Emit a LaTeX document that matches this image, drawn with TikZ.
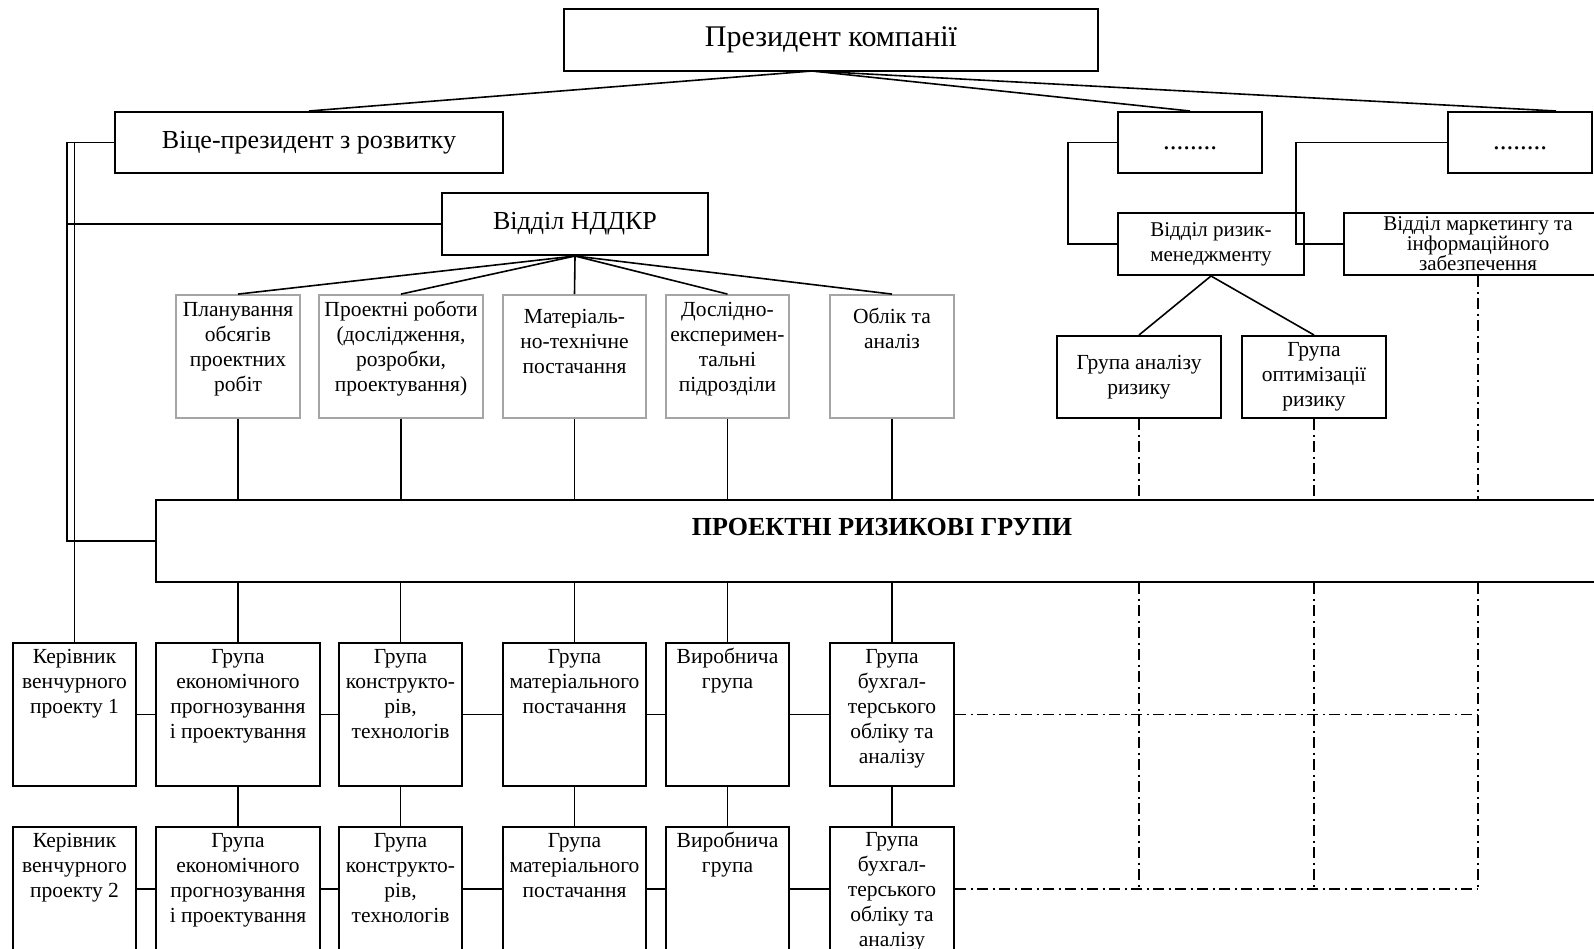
\documentclass[tikz,border=0pt]{standalone}
\usepackage{fontspec}
\setmainfont{Liberation Serif}
\usetikzlibrary{calc}
\definecolor{gline}{RGB}{165,165,165}
\newcommand\tb[4]{\parbox[c][#2pt][t]{#1pt}{\centering\vspace*{#3pt}\strut #4\par}}
\begin{document}
\begin{tikzpicture}[x=1pt,y=-1pt,
  bx/.style={draw, line width=2pt, inner sep=0pt},
  gbx/.style={draw=gline, line width=1.8pt, inner sep=0pt},
  sm/.style={font=\fontsize{21.5}{25}\selectfont},
  ln/.style={line width=1.6pt},
  dd/.style={line width=1.8pt, dash pattern=on 11pt off 4.5pt on 2pt off 4.5pt}]
\useasboundingbox (0,0) rectangle (1594,948);
\clip (0,0) rectangle (1594,948);
% top level
\node[bx, minimum width=534pt, minimum height=62pt, font=\fontsize{30}{36}\selectfont] (pres) at (831,40) {Президент компанії};
\node[bx, minimum width=388pt, minimum height=61pt, font=\fontsize{26}{30}\selectfont] (vp) at (309,142.5) {Віце-президент з розвитку};
\node[bx, minimum width=144pt, minimum height=61pt, text height=14pt, text depth=0pt, font=\fontsize{27}{30}\selectfont] (d1) at (1190,142.5) {........};
\node[bx, minimum width=144pt, minimum height=61pt, text height=14pt, text depth=0pt, font=\fontsize{27}{30}\selectfont] (d2) at (1520,142.5) {........};
\node[bx, minimum width=266pt, minimum height=62pt, font=\fontsize{26}{30}\selectfont] (nd) at (575,224) {Відділ НДДКР};
\coordinate (pc) at (812,71);
\draw[ln] (pc) -- (vp.north);
\draw[ln] (pc) -- (d1.north);
\draw[ln] (pc) -- ($(d2.north)+(36,0)$);
% right departments
\node[bx, align=center, minimum width=186pt, minimum height=62pt, font=\fontsize{21}{25}\selectfont] (rm) at (1211,244) {Відділ ризик-\\менеджменту};
\node[bx, align=center, minimum width=268pt, minimum height=62pt, font=\fontsize{21}{19.5}\selectfont] (mk) at (1478,244) {Відділ маркетингу та\\інформаційного\\забезпечення};
\node[bx, sm, align=center, minimum width=164pt, minimum height=82pt] (ga) at (1139,377) {Група аналізу\\ризику};
\node[bx, sm, align=center, minimum width=144pt, minimum height=82pt] (go) at (1314,377) {Група\\оптимізації\\ризику};
\draw[ln] (d1.west) -- ++(-49,0) |- (rm.west);
\draw[ln] (d2.west) -- ++(-151,0) |- (mk.west);
\draw[ln] (rm.south) -- (ga.north);
\draw[ln] (rm.south) -- (go.north);
% R&D sections
\node[gbx, sm] (p1) at (238,356.5) {\tb{124}{123}{3.5}{Планування\\обсягів\\проектних\\робіт}};
\node[gbx, sm] (p2) at (401,356.5) {\tb{164}{123}{3.5}{Проектні роботи\\(дослідження,\\розробки,\\проектування)}};
\node[gbx, sm] (p3) at (574.5,356.5) {\tb{143}{123}{10.5}{Матеріаль-\\но-технічне\\постачання}};
\node[gbx, sm] (p4) at (727.5,356.5) {\tb{123}{123}{4}{Дослідно-\\експеримен-\\тальні\\підрозділи}};
\node[gbx, sm] (p5) at (892,356.5) {\tb{124}{123}{10.5}{Облік та\\аналіз}};
\foreach \p in {p1,p2,p3,p4,p5} \draw[ln] (nd.south) -- (\p.north);
% project risk groups
\node[bx, minimum width=1452pt, minimum height=82pt, text height=18pt, text depth=29pt, font=\bfseries\fontsize{26}{30}\selectfont] (prg) at (882,541) {ПРОЕКТНІ РИЗИКОВІ ГРУПИ};
% row 1
\node[bx, sm] (k1) at (74.5,714.5) {\tb{123}{143}{2.5}{Керівник\\венчурного\\проекту 1}};
\node[bx, sm] (e1) at (238,714.5) {\tb{164}{143}{2.5}{Група\\економічного\\прогнозування\\і проектування}};
\node[bx, sm] (c1) at (400.5,714.5) {\tb{123}{143}{2.5}{Група\\конструкто-\\рів,\\технологів}};
\node[bx, sm] (m1) at (574.5,714.5) {\tb{143}{143}{2.5}{Група\\матеріального\\постачання}};
\node[bx, sm] (v1) at (727.5,714.5) {\tb{123}{143}{2.5}{Виробнича\\група}};
\node[bx, sm] (b1) at (892,714.5) {\tb{124}{143}{2.5}{Група\\бухгал-\\терського\\обліку та\\аналізу}};
% row 2
\node[bx, sm] (k2) at (74.5,889) {\tb{123}{124}{2.5}{Керівник\\венчурного\\проекту 2}};
\node[bx, sm] (e2) at (238,889) {\tb{164}{124}{2.5}{Група\\економічного\\прогнозування\\і проектування}};
\node[bx, sm] (c2) at (400.5,889) {\tb{123}{124}{2.5}{Група\\конструкто-\\рів,\\технологів}};
\node[bx, sm] (m2) at (574.5,889) {\tb{143}{124}{2.5}{Група\\матеріального\\постачання}};
\node[bx, sm] (v2) at (727.5,889) {\tb{123}{124}{2.5}{Виробнича\\група}};
\node[bx, sm] (b2) at (892,889) {\tb{124}{124}{1.5}{Група\\бухгал-\\терського\\обліку та\\аналізу}};
% vice-president links
\coordinate (bus) at (67,142.5);
\draw[ln] (vp.west) -| (k1.north);
\draw[ln] (vp.west) -- (bus) |- (prg.west);
\draw[ln] (nd.west) -- (bus |- nd.west);
% vertical links
\foreach \p/\a/\b in {p1/e1/e2,p2/c1/c2,p3/m1/m2,p4/v1/v2,p5/b1/b2}{
  \draw[ln] (\p.south) -- (\p.south |- prg.north);
  \draw[ln] (prg.south -| \a.north) -- (\a.north);
  \draw[ln] (\a.south) -- (\b.north);
}
% horizontal links
\draw[ln] (k1.east) -- (e1.west);
\draw[ln] (e1.east) -- (c1.west);
\draw[ln] (c1.east) -- (m1.west);
\draw[ln] (m1.east) -- (v1.west);
\draw[ln] (v1.east) -- (b1.west);
\draw[ln] (k2.east) -- (e2.west);
\draw[ln] (e2.east) -- (c2.west);
\draw[ln] (c2.east) -- (m2.west);
\draw[ln] (m2.east) -- (v2.west);
\draw[ln] (v2.east) -- (b2.west);
% dash-dot links
\foreach \n in {ga,go,mk}{
  \draw[dd] (\n.south) -- (\n.south |- prg.north);
  \draw[dd] (prg.south -| \n.south) -- (\n.south |- b2.east);
}
\draw[dd] (b1.east) -- (mk.south |- b1.east);
\draw[dd] (b2.east) -- (mk.south |- b2.east);
\end{tikzpicture}
\end{document}
